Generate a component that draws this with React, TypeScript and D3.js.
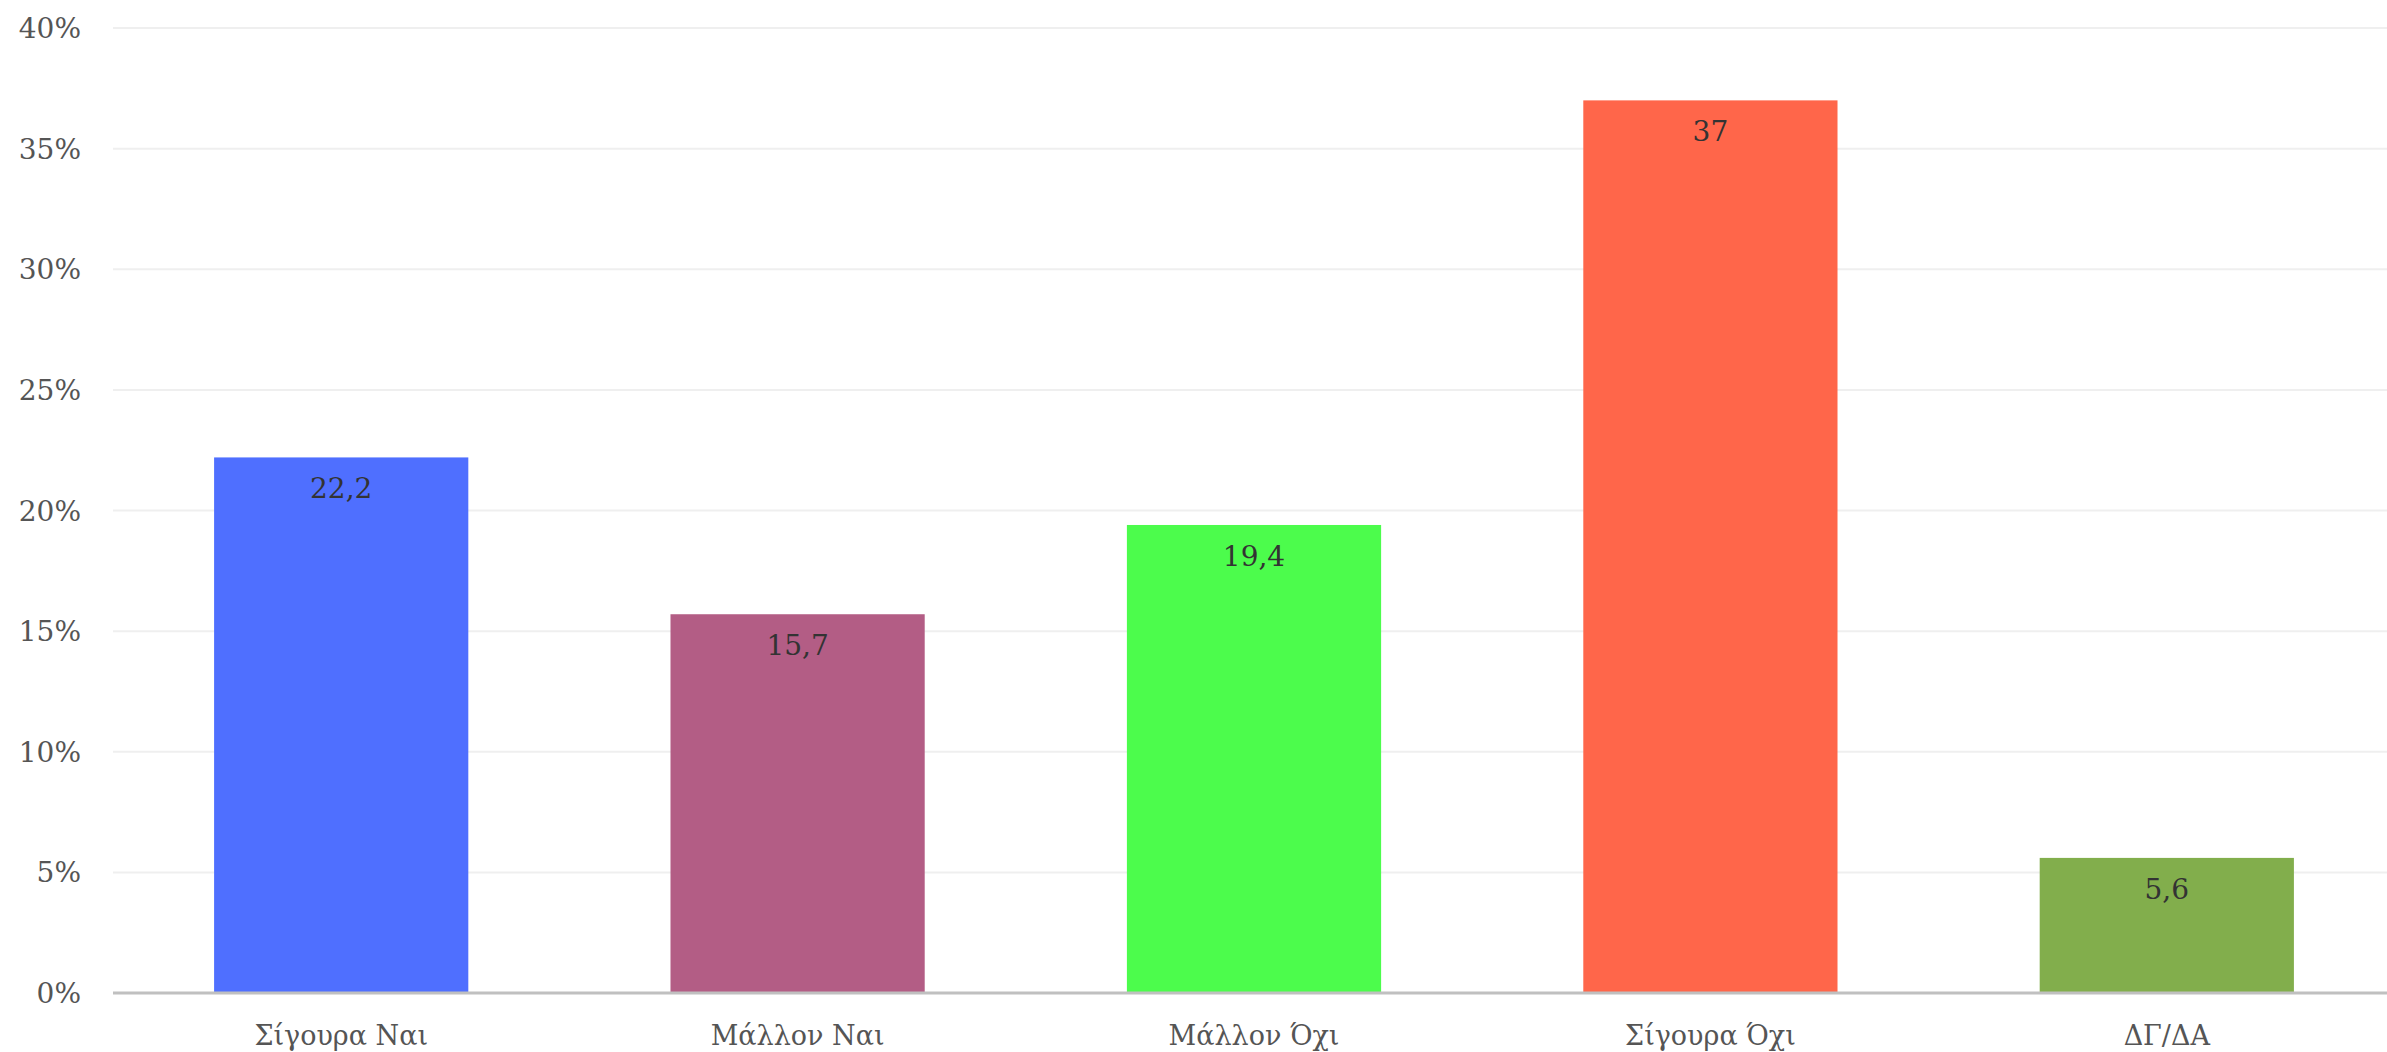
import React from "react";
import * as d3 from "d3";

const categories = ["Σίγουρα Ναι", "Μάλλον Ναι", "Μάλλον Όχι", "Σίγουρα Όχι", "ΔΓ/ΔΑ"];
const values = [22.2, 15.7, 19.4, 37, 5.6];
const barColors = ["#4f6fff", "#b35d85", "#4cfc4c", "#ff664a", "#82ae4c"];
const yTicks = [0, 5, 10, 15, 20, 25, 30, 35, 40];

const W = 2387;
const H = 1052;
const left = 113;
const right = 2387;
const top = 28;
const bottom = 993;

export default function App() {
  const x = d3.scaleBand<string>().domain(categories).range([left, 2395]).paddingInner(0.443).paddingOuter(0.2215);
  const y = d3.scaleLinear().domain([0, 40]).range([bottom, top]);
  const fmt = (v: number) => String(v).replace(".", ",");
  return (
    <svg width={W} height={H} style={{ position: "absolute", left: 0, top: 0, background: "#fff" }}>
      {yTicks.map((t) => (
        <g key={t}>
          {t > 0 && <line x1={left} x2={right} y1={y(t)} y2={y(t)} stroke="#efefef" strokeWidth={2} />}
          <text x={81} y={y(t) + 10} textAnchor="end" fontFamily="DejaVu Serif" fontSize={28} fill="#555">
            {t}%
          </text>
        </g>
      ))}
      {categories.map((c, i) => (
        <g key={c}>
          <rect x={x(c)} y={y(values[i])} width={x.bandwidth()} height={y(0) - y(values[i])} fill={barColors[i]} />
          <text x={(x(c) as number) + x.bandwidth() / 2} y={y(values[i]) + 41} textAnchor="middle" fontFamily="DejaVu Serif" fontSize={28} fill="#333">
            {fmt(values[i])}
          </text>
          <text x={(x(c) as number) + x.bandwidth() / 2} y={1045} textAnchor="middle" fontFamily="DejaVu Serif" fontSize={27} fill="#555">
            {c}
          </text>
        </g>
      ))}
      <line x1={left} x2={right} y1={bottom} y2={bottom} stroke="#c0c0c0" strokeWidth={3} />
    </svg>
  );
}
